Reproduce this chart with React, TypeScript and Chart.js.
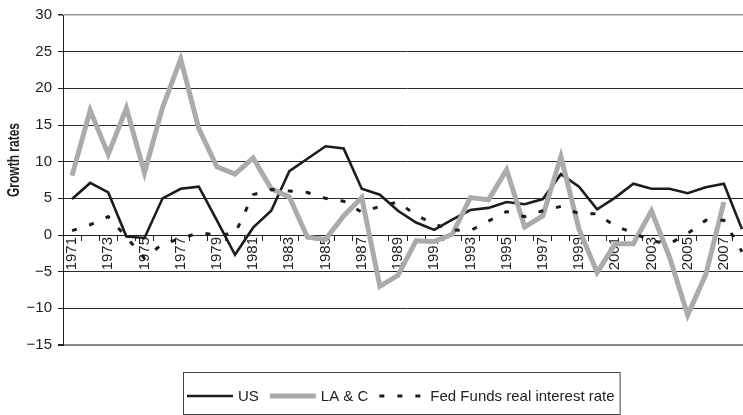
import React, { useEffect, useRef } from 'react';
import { Chart, registerables } from 'chart.js';

Chart.register(...registerables);

const years = [
  '1971', '1972', '1973', '1974', '1975', '1976', '1977', '1978', '1979', '1980',
  '1981', '1982', '1983', '1984', '1985', '1986', '1987', '1988', '1989', '1990',
  '1991', '1992', '1993', '1994', '1995', '1996', '1997', '1998', '1999', '2000',
  '2001', '2002', '2003', '2004', '2005', '2006', '2007', '2008',
];

const usGrowth = [
  4.9, 7.1, 5.8, -0.2, -0.4, 5.0, 6.3, 6.6, 2.0, -2.7,
  1.0, 3.3, 8.7, 10.4, 12.1, 11.8, 6.3, 5.5, 3.3, 1.7,
  0.7, 2.1, 3.4, 3.7, 4.5, 4.2, 4.9, 8.3, 6.6, 3.5,
  5.1, 7.0, 6.3, 6.3, 5.7, 6.5, 7.0, 0.8,
];

const lacGrowth = [
  8.1, 17.0, 11.0, 17.3, 8.5, 17.4, 24.0, 14.5, 9.3, 8.3,
  10.5, 6.3, 5.2, -0.3, -0.6, 2.6, 5.1, -7.0, -5.5, -0.8,
  -0.9, 0.1, 5.1, 4.8, 8.9, 1.1, 2.6, 10.7, 0.8, -5.1,
  -1.2, -1.2, 3.3, -3.0, -10.9, -5.4, 4.5, null,
];

const fedFundsReal = [
  0.6, 1.4, 2.5, -0.3, -3.2, -1.2, -0.5, 0.3, 0.0, 0.2,
  5.5, 6.2, 6.0, 5.8, 5.0, 4.6, 3.1, 3.9, 4.5, 2.7,
  1.5, 0.7, 0.6, 1.9, 3.2, 2.5, 3.3, 3.9, 2.9, 2.9,
  1.2, 0.3, -0.8, -1.2, 0.2, 2.0, 2.0, -2.3,
];

const seriesNames = ['US', 'LA & C', 'Fed Funds real interest rate'];

const yTitle = 'Growth rates';

const yTicks = { min: -15, max: 30, step: 5 };

const FONT = '"Liberation Sans", Arial, Helvetica, sans-serif';

const yTitlePlugin = {
  id: 'yTitle',
  afterDraw(chart: any) {
    const ctx = chart.ctx as CanvasRenderingContext2D;
    ctx.save();
    ctx.translate(15, 160);
    ctx.rotate(-Math.PI / 2);
    ctx.scale(0.75, 1);
    ctx.font = `bold 16px ${FONT}`;
    ctx.fillStyle = '#222';
    ctx.textAlign = 'center';
    ctx.textBaseline = 'middle';
    ctx.fillText(yTitle, 0, 0);
    ctx.restore();
  },
};

const boxLegend = {
  id: 'boxLegend',
  afterDraw(chart: any) {
    const ctx = chart.ctx as CanvasRenderingContext2D;
    ctx.save();
    ctx.font = `15px ${FONT}`;
    ctx.textBaseline = 'middle';
    ctx.textAlign = 'left';
    const left = 183;
    const top = 372;
    const bottom = 414;
    const cy = 396;
    let x = left + 4;
    const ds = chart.data.datasets;
    for (let i = 0; i < ds.length; i++) {
      const d = ds[i];
      ctx.save();
      ctx.strokeStyle = d.borderColor;
      ctx.lineWidth = d.borderWidth;
      ctx.setLineDash(d.borderDash || []);
      ctx.beginPath();
      ctx.moveTo(x, cy);
      ctx.lineTo(x + 46, cy);
      ctx.stroke();
      ctx.restore();
      const tx = x + 51;
      ctx.fillStyle = '#222';
      ctx.fillText(d.label, tx, cy + 1);
      const w = ctx.measureText(d.label).width;
      x = tx + w + (i < ds.length - 1 ? 11 : 5);
    }
    ctx.strokeStyle = '#444';
    ctx.lineWidth = 1;
    ctx.setLineDash([]);
    ctx.strokeRect(left + 0.5, top + 0.5, x - left, bottom - top);
    ctx.restore();
  },
};

export default function App() {
  const ref = useRef<HTMLCanvasElement | null>(null);

  useEffect(() => {
    if (!ref.current) return;
    const chart = new Chart(ref.current, {
      type: 'line',
      data: {
        labels: years,
        datasets: [
          {
            label: seriesNames[0],
            data: usGrowth,
            borderColor: '#1c1c1c',
            borderWidth: 2.6,
            pointRadius: 0,
            tension: 0,
            fill: false,
            order: 3,
          },
          {
            label: seriesNames[1],
            data: lacGrowth,
            borderColor: '#ababab',
            borderWidth: 5,
            pointRadius: 0,
            tension: 0,
            fill: false,
            order: 2,
          },
          {
            label: seriesNames[2],
            data: fedFundsReal,
            borderColor: '#1c1c1c',
            borderWidth: 3,
            borderDash: [5, 13],
            pointRadius: 0,
            tension: 0,
            fill: false,
            order: 1,
          },
        ],
      },
      options: {
        responsive: false,
        animation: false,
        devicePixelRatio: 1,
        layout: { padding: { left: 0, top: 13, right: 2, bottom: 70 } },
        plugins: {
          legend: { display: false },
          tooltip: { enabled: false },
        },
        scales: {
          x: {
            type: 'category',
            position: { y: 0 },
            offset: true,
            grid: {
              offset: true,
              drawOnChartArea: false,
              drawTicks: true,
              tickLength: 5,
              color: '#222',
            },
            border: { display: true, color: '#222', width: 1 },
            ticks: {
              autoSkip: false,
              minRotation: 90,
              maxRotation: 90,
              padding: -3,
              color: '#222',
              font: { family: FONT, size: 15 },
              callback: (_v: any, i: number) => (i % 2 === 0 ? years[i] : ''),
            },
          },
          y: {
            min: yTicks.min,
            max: yTicks.max,
            afterFit: (scale: any) => {
              scale.width = 63;
            },
            ticks: {
              stepSize: yTicks.step,
              padding: 6,
              color: '#222',
              font: { family: FONT, size: 15 },
              callback: (v: any) => String(v).replace('-', '\u2212'),
            },
            grid: {
              drawTicks: true,
              tickLength: 5,
              tickColor: '#222',
              color: (c: any) =>
                c.tick && c.tick.value === yTicks.max
                  ? '#9a9a9a'
                  : c.tick && c.tick.value === yTicks.min
                  ? '#8a8a8a'
                  : '#2a2a2a',
              lineWidth: (c: any) =>
                c.tick && c.tick.value === yTicks.min
                  ? 2
                  : c.tick && c.tick.value === yTicks.max
                  ? 1.5
                  : 1,
            },
            border: { display: true, color: '#222', width: 1 },
            title: { display: false },
          },
        },
      },
      plugins: [yTitlePlugin, boxLegend],
    } as any);
    return () => chart.destroy();
  }, []);

  return (
    <div
      style={{
        position: 'fixed',
        left: 0,
        top: 0,
        width: 743,
        height: 415,
        overflow: 'hidden',
        background: '#fff',
      }}
    >
      <canvas ref={ref} width={757} height={415} style={{ display: 'block', width: 757, height: 415 }} />
    </div>
  );
}
